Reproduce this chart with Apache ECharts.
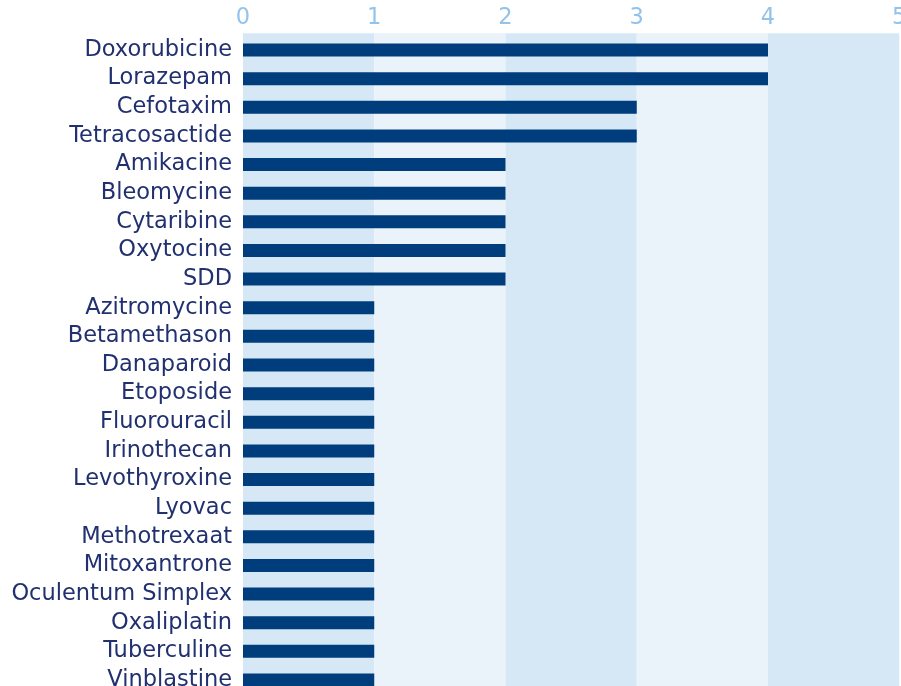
<!DOCTYPE html>
<html>
<head>
<meta charset="utf-8">
<script src="https://cdn.jsdelivr.net/npm/echarts@6/dist/echarts.min.js"></script>
<style>
html,body{margin:0;padding:0;background:#fff;}
#chart{width:901px;height:686px;}
</style>
</head>
<body>
<div id="chart"></div>
<script>
var categories = ["Doxorubicine","Lorazepam","Cefotaxim","Tetracosactide","Amikacine","Bleomycine","Cytaribine","Oxytocine","SDD","Azitromycine","Betamethason","Danaparoid","Etoposide","Fluorouracil","Irinothecan","Levothyroxine","Lyovac","Methotrexaat","Mitoxantrone","Oculentum Simplex","Oxaliplatin","Tuberculine","Vinblastine"];
var values = [4,4,3,3,2,2,2,2,2,1,1,1,1,1,1,1,1,1,1,1,1,1,1];
var xTicks = [0,1,2,3,4,5];

var chart = echarts.init(document.getElementById('chart'), null, {renderer:'canvas'});
chart.setOption({
  animation:false,
  backgroundColor:'#ffffff',
  grid:[
    {left:243, right:1.75, top:33.3, bottom:0, containLabel:false, outerBoundsMode:'none'},
    {left:243, right:1.75, top:35.7, bottom:-8.3, containLabel:false, outerBoundsMode:'none'}
  ],
  xAxis:[
    {gridIndex:0, type:'value', position:'top', min:xTicks[0], max:xTicks[xTicks.length-1], interval:1,
     axisLine:{show:false}, axisTick:{show:false}, splitLine:{show:false},
     splitArea:{show:true, areaStyle:{color:['#d6e8f6','#eaf2fa']}},
     axisLabel:{color:'#93c3ea', fontSize:22.5, fontFamily:'DejaVu Sans', margin:4, hideOverlap:false}},
    {gridIndex:1, type:'value', min:0, max:5, interval:1, show:false}
  ],
  yAxis:[
    {gridIndex:0, type:'value', show:false},
    {gridIndex:1, type:'category', data:categories, inverse:true,
     axisLine:{show:false}, axisTick:{show:false},
     axisLabel:{color:'#21306f', fontSize:22.5, fontFamily:'DejaVu Sans', margin:11, interval:0}}
  ],
  series:[{
    type:'bar', xAxisIndex:1, yAxisIndex:1, data:values, barWidth:13,
    itemStyle:{color:'#003d7c'}
  }]
});
</script>
</body>
</html>
